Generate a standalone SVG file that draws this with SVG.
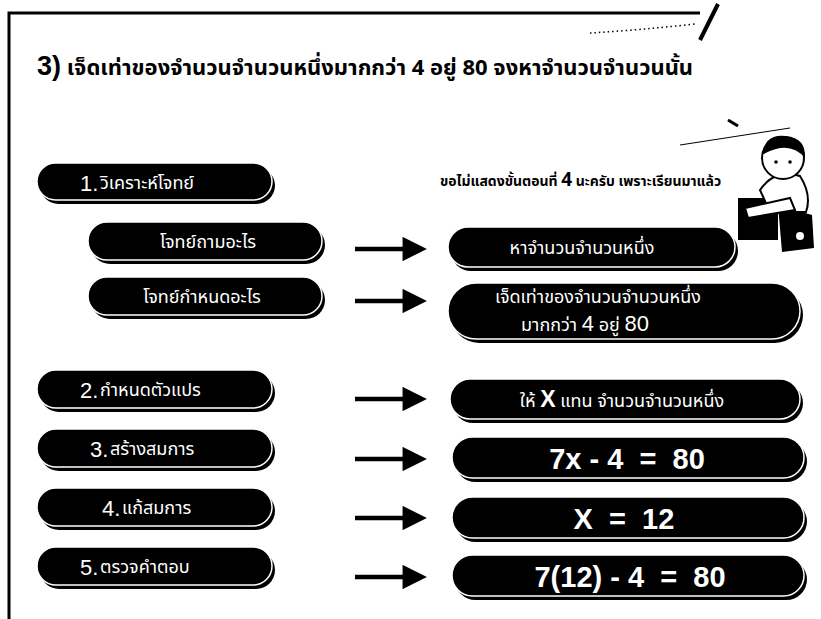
<svg xmlns="http://www.w3.org/2000/svg" width="821" height="619" viewBox="0 0 821 619">
  <style>
    .thai { font-family: "Noto Sans Thai", "Noto Sans", "DejaVu Sans", "Liberation Sans", sans-serif; }
    .title { font-size: 22px; font-weight: bold; fill: #000; }
    .note { font-size: 14px; font-weight: bold; fill: #000; }
    .pill-txt { font-size: 18px; fill: #fff; }
    .num { font-family: "Liberation Sans", Arial, sans-serif; font-size: 22px; fill: #fff; }
    .eq { font-family: "Liberation Sans", Arial, sans-serif; font-size: 29px; font-weight: bold; fill: #fff; }
    .shadow { fill: #000; }
    .pill { fill: #000; stroke: #fff; stroke-width: 1.5; }
    .shaft { stroke: #000; stroke-width: 4.5; }
  </style>
  <defs>
    <marker id="head" viewBox="0 0 10 10" refX="1" refY="5" markerWidth="6.5" markerHeight="5.4" orient="auto" markerUnits="strokeWidth">
      <path d="M0,0 L10,5 L0,10 Z" fill="#000"/>
    </marker>
  </defs>

  <rect width="821" height="619" fill="#fff"/>

  <!-- frame -->
  <path d="M9,619 L9,13 L700,13" fill="none" stroke="#000" stroke-width="3"/>
  <path d="M700,40 L718,4" stroke="#000" stroke-width="4"/>
  <path d="M590,33 Q640,30 695,24" fill="none" stroke="#000" stroke-width="1.5" stroke-dasharray="1.5 3"/>
  <path d="M680,145 L790,128" stroke="#000" stroke-width="1"/>
  <path d="M728,120 L738,126" stroke="#000" stroke-width="3"/>

  <!-- heading -->
  <text x="37" y="75" class="thai title"><tspan font-family="Liberation Sans, Arial, sans-serif" font-size="27">3)</tspan> เจ็ดเท่าของจำนวนจำนวนหนึ่งมากกว่า 4 อยู่ 80 จงหาจำนวนจำนวนนั้น</text>

  <!-- remark beside the child -->
  <text x="440" y="186" class="thai note">ขอไม่แสดงขั้นตอนที่ <tspan font-size="19">4</tspan> นะครับ เพราะเรียนมาแล้ว</text>

  <!-- child at desk -->
  <g id="child">
    <rect x="738" y="198" width="40" height="42" fill="#000"/>
    <path d="M778,205 L812,215 L814,248 L782,252 Z" fill="#000"/>
    <circle cx="800" cy="236" r="4" fill="#fff"/>
    <path d="M760,190 Q775,168 800,176 Q812,195 806,212 L770,212 Z" fill="#fff" stroke="#000" stroke-width="2"/>
    <path d="M745,208 L790,198 L795,210 L748,218 Z" fill="#fff" stroke="#000" stroke-width="2"/>
    <circle cx="783" cy="158" r="21" fill="#fff" stroke="#000" stroke-width="2"/>
    <path d="M762,155 Q765,133 786,136 Q806,138 805,158 Q795,146 780,148 Q770,150 762,155 Z" fill="#000"/>
    <circle cx="776" cy="162" r="1.8" fill="#000"/>
    <circle cx="790" cy="162" r="1.8" fill="#000"/>
  </g>

  <!-- step column -->
  <g id="step1">
    <rect class="shadow" x="40" y="167" width="235" height="37" rx="18.5"/>
    <rect class="pill" x="37" y="163" width="235" height="37" rx="18.5"/>
    <text x="80" y="191" class="num">1.</text>
    <text x="100" y="189" class="thai pill-txt">วิเคราะห์โจทย์</text>
  </g>
  <g id="ask">
    <rect class="shadow" x="91" y="226" width="234" height="38" rx="19"/>
    <rect class="pill" x="88" y="222" width="234" height="38" rx="19"/>
    <text x="208" y="248" text-anchor="middle" class="thai pill-txt">โจทย์ถามอะไร</text>
  </g>
  <g id="given">
    <rect class="shadow" x="91" y="281" width="234" height="38" rx="19"/>
    <rect class="pill" x="88" y="277" width="234" height="38" rx="19"/>
    <text x="202" y="303" text-anchor="middle" class="thai pill-txt">โจทย์กำหนดอะไร</text>
  </g>
  <g id="step2">
    <rect class="shadow" x="40" y="374" width="235" height="38" rx="19"/>
    <rect class="pill" x="37" y="370" width="235" height="38" rx="19"/>
    <text x="80" y="398" class="num">2.</text>
    <text x="100" y="396" class="thai pill-txt">กำหนดตัวแปร</text>
  </g>
  <g id="step3">
    <rect class="shadow" x="40" y="433" width="235" height="38" rx="19"/>
    <rect class="pill" x="37" y="429" width="235" height="38" rx="19"/>
    <text x="90" y="457" class="num">3.</text>
    <text x="110" y="455" class="thai pill-txt">สร้างสมการ</text>
  </g>
  <g id="step4">
    <rect class="shadow" x="40" y="492" width="235" height="38" rx="19"/>
    <rect class="pill" x="37" y="488" width="235" height="38" rx="19"/>
    <text x="102" y="516" class="num">4.</text>
    <text x="122" y="514" class="thai pill-txt">แก้สมการ</text>
  </g>
  <g id="step5">
    <rect class="shadow" x="40" y="551" width="235" height="38" rx="19"/>
    <rect class="pill" x="37" y="547" width="235" height="38" rx="19"/>
    <text x="80" y="575" class="num">5.</text>
    <text x="100" y="573" class="thai pill-txt">ตรวจคำตอบ</text>
  </g>

  <!-- answer column -->
  <g id="ans-ask">
    <rect class="shadow" x="451" y="231" width="287" height="40" rx="20"/>
    <rect class="pill" x="448" y="227" width="287" height="40" rx="20"/>
    <text x="582" y="254" text-anchor="middle" class="thai pill-txt" font-size="20">หาจำนวนจำนวนหนึ่ง</text>
  </g>
  <g id="ans-given">
    <rect class="shadow" x="451" y="287" width="352" height="56" rx="28"/>
    <rect class="pill" x="448" y="283" width="352" height="56" rx="28"/>
    <text x="598" y="303" text-anchor="middle" class="thai pill-txt" font-size="15">เจ็ดเท่าของจำนวนจำนวนหนึ่ง</text>
    <text x="585" y="331" text-anchor="middle" class="thai pill-txt" font-size="15">มากกว่า <tspan class="num" font-size="16">4</tspan>  อยู่  <tspan class="num" font-size="16">80</tspan></text>
  </g>
  <g id="ans-var">
    <rect class="shadow" x="453" y="383" width="350" height="40" rx="20"/>
    <rect class="pill" x="450" y="379" width="350" height="40" rx="20"/>
    <text x="622" y="407" text-anchor="middle" class="thai pill-txt" font-size="20">ให้ <tspan font-family="Liberation Sans, Arial, sans-serif" font-weight="bold" font-size="23">X</tspan> แทน  จำนวนจำนวนหนึ่ง</text>
  </g>
  <g id="ans-eq">
    <rect class="shadow" x="455" y="441" width="352" height="41" rx="20.5"/>
    <rect class="pill" x="452" y="437" width="352" height="41" rx="20.5"/>
    <text x="627" y="469" text-anchor="middle" class="eq" xml:space="preserve">7x - 4  =  80</text>
  </g>
  <g id="ans-solve">
    <rect class="shadow" x="455" y="501" width="352" height="41" rx="20.5"/>
    <rect class="pill" x="452" y="497" width="352" height="41" rx="20.5"/>
    <text x="624" y="529" text-anchor="middle" class="eq" xml:space="preserve">X  =  12</text>
  </g>
  <g id="ans-check">
    <rect class="shadow" x="455" y="559" width="352" height="41" rx="20.5"/>
    <rect class="pill" x="452" y="555" width="352" height="41" rx="20.5"/>
    <text x="630" y="587" text-anchor="middle" class="eq" xml:space="preserve">7(12) - 4  =  80</text>
  </g>

  <!-- connectors -->
  <g id="connectors">
    <line class="shaft" x1="355" y1="249" x2="405" y2="249" marker-end="url(#head)"/>
    <line class="shaft" x1="355" y1="301" x2="405" y2="301" marker-end="url(#head)"/>
    <line class="shaft" x1="355" y1="399" x2="405" y2="399" marker-end="url(#head)"/>
    <line class="shaft" x1="355" y1="459" x2="405" y2="459" marker-end="url(#head)"/>
    <line class="shaft" x1="355" y1="518" x2="405" y2="518" marker-end="url(#head)"/>
    <line class="shaft" x1="355" y1="577" x2="405" y2="577" marker-end="url(#head)"/>
  </g>
</svg>
